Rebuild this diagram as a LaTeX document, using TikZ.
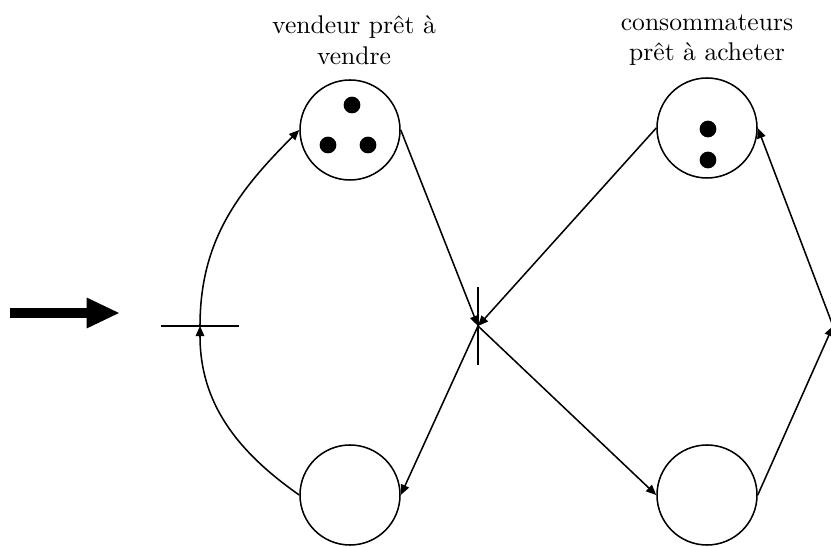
\documentclass[tikz,border=0pt]{standalone}
\usetikzlibrary{arrows.meta}

\begin{document}
\begin{tikzpicture}[>={Triangle[length=4pt, width=3.4pt]}, x=0.1374cm, y=-0.1374cm]

\tikzset{
    place/.style={
        draw, semithick, circle, inner sep=0pt,
        minimum size=1.374cm
    },
    token/.style={
        fill=black, circle, inner sep=0pt,
        minimum size=0.23cm
    },
    hbar/.style={
        draw, semithick, inner sep=0pt,
        minimum width=1.07cm, minimum height=0pt
    },
    vbar/.style={
        draw, semithick, inner sep=0pt,
        minimum width=0pt, minimum height=1.07cm
    },
    flow/.style={
        ->, semithick
    },
    caption/.style={
        align=center
    }
}

% Frame
\useasboundingbox (0,0) rectangle (83.1,54.7);

% Places
\node[place] (Vend) at (35,13) {};
\node[place] (VendB) at (35,49.5) {};
\node[place] (Cons) at (70.7,12.8) {};
\node[place] (ConsB) at (70.7,49.5) {};

% Tokens
\node[token] (v1) at (35.2,10.5) {};
\node[token] (v2) at (32.8,14.5) {};
\node[token] (v3) at (36.8,14.5) {};
\node[token] (c1) at (70.8,12.9) {};
\node[token] (c2) at (70.8,16) {};

% Captions
\node[caption] (LVend) at (35.4,4) {vendeur prêt à\\vendre};
\node[caption] (LCons) at (70.7,4) {consommateurs\\prêt à acheter};

% Transitions
\node[hbar] (T1) at (20,32.6) {};
\node[vbar] (T2) at (47.8,32.6) {};
\node[vbar] (T3) at (83.3,32.6) {};

% Arcs
\draw[flow] (VendB.west) to[out=145, in=-90] (T1.center);
\draw[flow] (T1.center) to[out=90, in=225] (Vend.west);
\draw[flow] (Vend.east) -- (T2.center);
\draw[flow] (Cons.west) -- (T2.center);
\draw[flow] (T2.center) -- (VendB.east);
\draw[flow] (T2.center) -- (ConsB.west);
\draw[flow] (ConsB.east) -- (T3.center);
\draw[flow] (T3.center) -- (Cons.east);

% Big arrow
\coordinate (A0) at (1,31.3);
\coordinate (A1) at (12,31.3);
\draw[-{Triangle[length=13pt, width=11pt]}, line width=4pt] (A0) -- (A1);

\end{tikzpicture}
\end{document}
